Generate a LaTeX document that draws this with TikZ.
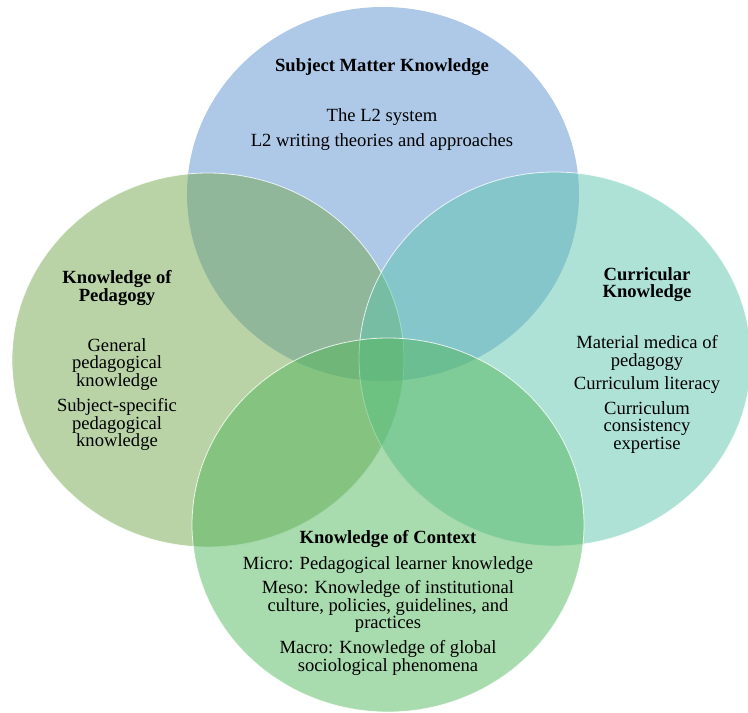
\documentclass[tikz,border=0pt]{standalone}
\usepackage{fontspec}
\setmainfont{Liberation Serif}
\usetikzlibrary{shapes.geometric}

\definecolor{subjectblue}{RGB}{93,145,209}
\definecolor{pedagogygreen}{RGB}{115,167,77}
\definecolor{curriculumteal}{RGB}{93,197,173}
\definecolor{contextgreen}{RGB}{81,183,91}

\tikzset{
  area/.style={ellipse, minimum width=392pt, minimum height=374pt, inner sep=0pt,
    fill opacity=0.5, draw=white, draw opacity=0.8, line width=0.8pt},
  % positions below are the baseline of the first line
  txt/.style={font=\fontsize{18.6}{17.5}\selectfont, align=center, inner sep=0pt,
    anchor=north, yshift=12.7pt},
  head/.style={txt, font=\fontsize{18.6}{17.5}\selectfont\bfseries},
}

\begin{document}
\begin{tikzpicture}[x=1pt, y=-1pt]
\useasboundingbox (0,0) rectangle (748,713);

% the four overlapping sets
\node[area, fill=subjectblue, draw=none] (subject) at (383,194) {};
\node[area, fill=pedagogygreen] (pedagogy) at (208,360) {};
\node[area, fill=curriculumteal] (curriculum) at (555,359) {};
\node[area, fill=contextgreen] (context) at (388,525) {};

% top set
\node[head] (subjecthead) at (382,71) {Subject Matter Knowledge};
\node[txt] (subjectone) at (382,121) {The L2 system};
\node[txt] (subjecttwo) at (382,146) {L2 writing theories and approaches};

% left set
\node[head] (pedagogyhead) at (117,283) {Knowledge of\\Pedagogy};
\node[txt] (pedagogyone) at (117,351) {General\\pedagogical\\knowledge};
\node[txt] (pedagogytwo) at (117,411) {Subject-specific\\pedagogical\\knowledge};

% right set
\node[head] (curriculumhead) at (647,280) {Curricular\\Knowledge};
\node[txt] (curriculumone) at (647,348) {Material medica of\\pedagogy};
\node[txt] (curriculumtwo) at (647,389) {Curriculum literacy};
\node[txt] (curriculumthree) at (647,414) {Curriculum\\consistency\\expertise};

% bottom set
\node[head] (contexthead) at (388,543) {Knowledge of Context};
\node[txt] (contextone) at (388,569) {Micro: Pedagogical learner knowledge};
\node[txt] (contexttwo) at (388,593) {Meso: Knowledge of institutional\\culture, policies, guidelines, and\\practices};
\node[txt] (contextthree) at (388,653) {Macro: Knowledge of global\\sociological phenomena};
\end{tikzpicture}
\end{document}
